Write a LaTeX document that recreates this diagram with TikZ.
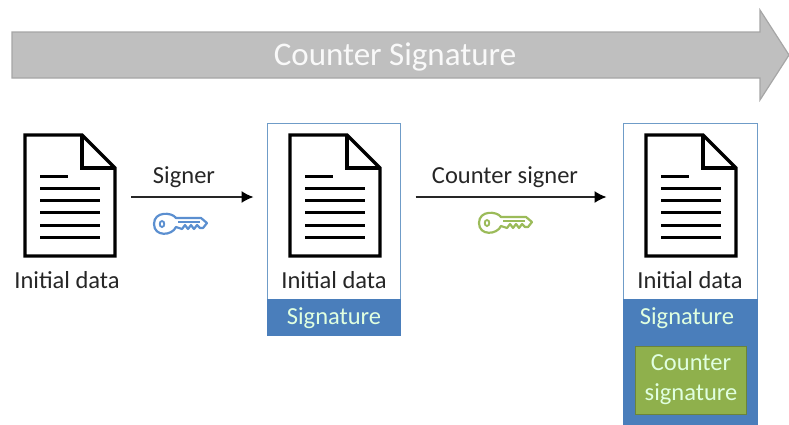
\documentclass[tikz,border=0pt]{standalone}
\usepackage{fontspec}
\setmainfont{Carlito}
\usetikzlibrary{arrows.meta}
\definecolor{bandblue}{HTML}{4A7EBB}
\definecolor{keyblue}{HTML}{5B8FD0}
\definecolor{keygreen}{HTML}{9BBB59}
\definecolor{boxgreen}{HTML}{8FB04C}
\definecolor{framec}{HTML}{6F9CC8}
\definecolor{ink}{HTML}{262626}
\tikzset{
  label text/.style={font=\fontsize{24.5}{29}\selectfont,text=ink,inner sep=0pt,anchor=center},
  band text/.style={font=\fontsize{24.5}{29}\selectfont,text=white!88!green,inner sep=0pt,anchor=center},
  frame/.style={draw=framec,line width=1pt,fill=white,inner sep=0pt},
  band/.style={fill=bandblue,draw=bandblue,inner sep=0pt},
  docspot/.style={minimum width=90pt,minimum height=124pt,inner sep=0pt},
  flow/.style={draw=ink,line width=1.4pt,-{Latex[length=12pt,width=12pt,black]}},
  pics/docicon/.style={code={
    \draw[line width=3.2pt,black,line join=miter] (25,135) -- (82,135) -- (115,168) -- (115,256) -- (25,256) -- cycle;
    \draw[line width=3.2pt,black,line join=miter] (82,135) -- (82,168) -- (115,168);
    \draw[line width=3pt,black] (40,176) -- (68,176)
      (40,188) -- (100,188) (40,200) -- (100,200) (40,212) -- (100,212)
      (40,225) -- (100,225) (40,237) -- (100,237);
  }},
  pics/keyicon/.style={code={
    \draw[line width=2.2pt,#1,line join=round]
      (22,-6) -- (47,-6) -- (53,-1) -- (49,4) -- (46,4) -- (43,1) -- (40,5) -- (37,1) -- (34,5) -- (31,1) -- (28,5) -- (22,3)
      .. controls (18,12) and (0,13) .. (0,0) .. controls (0,-13) and (18,-12) .. (22,-6) -- cycle;
    \draw[line width=1.8pt,#1] (8,-3) .. controls (5,-3) and (5,3) .. (8,3) .. controls (11,3) and (11,-3) .. (8,-3) -- cycle;
    \draw[line width=1.6pt,#1] (24,-2) -- (46,-2);
  }}
}
\begin{document}
\begin{tikzpicture}[x=1pt,y=-1pt]
\useasboundingbox (0,0) rectangle (789,424);
% big arrow
\draw[fill=gray!50!white,draw=gray!70!white,line width=1.2pt,line join=miter]
  (12,32) -- (760,32) -- (760,10) -- (789,55) -- (760,100) -- (760,78) -- (12,78) -- cycle;
\node[inner sep=0pt,font=\fontsize{33}{38}\selectfont,text=white!95!gray] (title) at (395,57) {Counter Signature};
% frames
\node[frame,minimum width=133pt,minimum height=176pt] (frameB) at (333.5,211) {};
\node[band,minimum width=133pt,minimum height=36pt] (bandB) at (333.5,317) {};
\node[frame,minimum width=134pt,minimum height=176pt] (frameC) at (690,211) {};
\node[band,minimum width=134pt,minimum height=125pt] (bandC) at (690,361.5) {};
\node[fill=boxgreen,draw=boxgreen!75!black,line width=1pt,inner sep=0pt,minimum width=111pt,minimum height=68pt] (greenC) at (690.5,380) {};
% documents
\node[docspot] (docA) at (70,197) {};
\node[docspot] (docB) at (335,197) {};
\node[docspot] (docC) at (691,197) {};
\pic {docicon};
\pic at (265,0) {docicon};
\pic at (621,0) {docicon};
% captions
\node[label text] (capA) at (67,280) {Initial data};
\node[label text] (capB) at (334,280) {Initial data};
\node[label text] (capC) at (690,280) {Initial data};
\node[band text] (sigB) at (334,318) {Signature};
\node[band text] (sigC) at (687,318) {Signature};
\node[band text,align=center,font=\fontsize{24.5}{30}\selectfont] (csig) at (691,380) {Counter\\signature};
% connectors
\draw[flow,shorten <=16pt,shorten >=13pt] (docA.east) -- (docA.east -| frameB.west);
\draw[flow,shorten <=15pt,shorten >=16pt] (frameB.east |- docB.east) -- (frameC.west |- docC.east);
\node[label text] (signer) at (184,177) {Signer};
\node[label text] (csigner) at (505,177) {Counter signer};
\pic at (154,224) {keyicon=keyblue};
\pic at (479,223) {keyicon=keygreen};
\end{tikzpicture}
\end{document}
